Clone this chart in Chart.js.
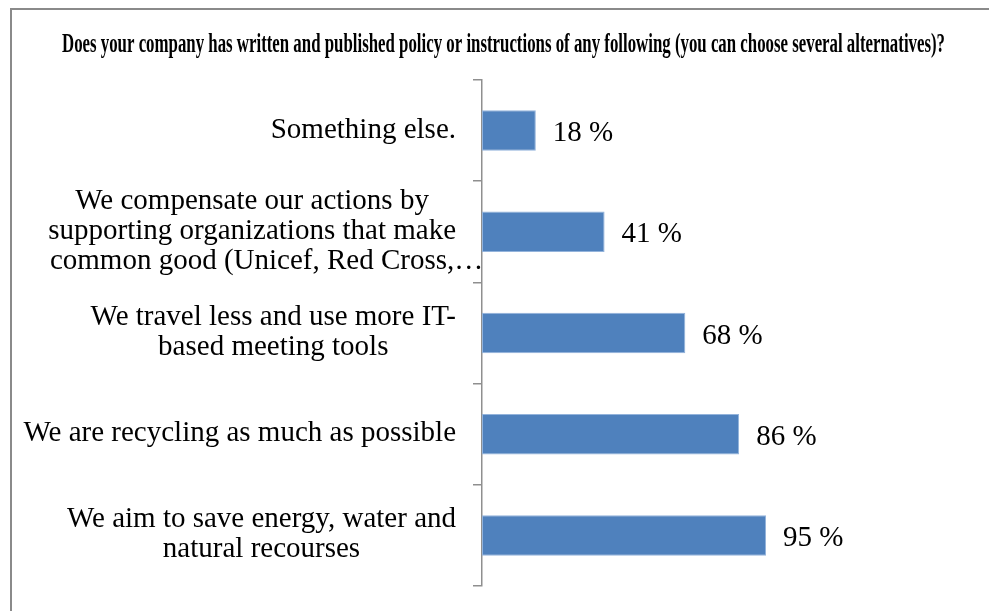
<!DOCTYPE html>
<html>
<head>
<meta charset="utf-8">
<script src="https://cdn.jsdelivr.net/npm/chart.js@4.4.1/dist/chart.umd.min.js"></script>
<style>
  html, body { margin: 0; padding: 0; background: #ffffff; }
  #wrap { position: relative; width: 989px; height: 611px; }
  canvas { display: block; }
</style>
</head>
<body>
<div id="wrap"><canvas id="chart" width="989" height="611"></canvas></div>
<script>
// Survey question shown as the chart heading
const questionTitle = "Does your company has written and published policy or instructions of any following (you can choose several alternatives)?";

// Answer options, top to bottom (each entry holds its wrapped lines)
const answerLabels = [
  ["Something else."],
  ["We compensate our actions by", "supporting organizations that make", "common good (Unicef, Red Cross,\u2026"],
  ["We travel less and use more IT-", "based meeting tools"],
  ["We are recycling as much as possible"],
  ["We aim to save energy, water and", "natural recourses"]
];

// Share of respondents choosing each option, in percent
const answerShares = [18, 41, 68, 86, 95];

// Horizontal axis range (percent)
const shareAxisMin = 0;
const shareAxisMax = 100;

const SERIF = "'Liberation Serif', 'Times New Roman', serif";
const AXIS_GREY = "#8f8f8f";

// Outer frame (top and left edges) plus the bold condensed heading
const framePlugin = {
  id: "frameAndTitle",
  beforeDraw(chart) {
    const ctx = chart.ctx;
    ctx.save();
    ctx.fillStyle = "#ffffff";
    ctx.fillRect(0, 0, chart.width, chart.height);
    ctx.strokeStyle = "#8a8a8a";
    ctx.lineWidth = 2;
    ctx.beginPath();
    ctx.moveTo(11, chart.height);
    ctx.lineTo(11, 9);
    ctx.lineTo(chart.width, 9);
    ctx.stroke();

    // heading, squeezed horizontally to its span
    ctx.font = "bold 28px " + SERIF;
    ctx.fillStyle = "#000000";
    ctx.textAlign = "left";
    ctx.textBaseline = "alphabetic";
    const w = ctx.measureText(questionTitle).width;
    const targetW = 883;
    const sx = targetW / w;
    ctx.translate(62, 52);
    ctx.scale(sx, 1);
    ctx.fillText(questionTitle, 0, 0);
    ctx.restore();
  }
};

// Category labels: each block is right-aligned, its lines centred within the block
const categoryLabelPlugin = {
  id: "categoryLabels",
  afterDraw(chart) {
    const ctx = chart.ctx;
    const yScale = chart.scales.y;
    const rightEdge = 456;
    const lineH = 30;
    ctx.save();
    ctx.font = "29px " + SERIF;
    ctx.fillStyle = "#000000";
    ctx.textBaseline = "alphabetic";
    answerLabels.forEach((lines, i) => {
      const yc = yScale.getPixelForValue(i);
      const widths = lines.map(l => ctx.measureText(l.replace(/\u2026$/, "")).width);
      const blockW = Math.max(...widths);
      const cx = rightEdge - blockW / 2;
      const y0 = yc - (lines.length - 1) * lineH / 2 + 7;
      lines.forEach((l, k) => {
        // a truncated line keeps its centring without the ellipsis
        ctx.textAlign = "left";
        ctx.fillText(l, cx - widths[k] / 2, y0 + k * lineH);
      });
    });
    ctx.restore();
  }
};

// Value labels to the right of each bar
const valueLabelPlugin = {
  id: "valueLabels",
  afterDatasetsDraw(chart) {
    const ctx = chart.ctx;
    const meta = chart.getDatasetMeta(0);
    ctx.save();
    ctx.font = "29px " + SERIF;
    ctx.fillStyle = "#000000";
    ctx.textAlign = "left";
    ctx.textBaseline = "alphabetic";
    meta.data.forEach((bar, i) => {
      ctx.fillText(answerShares[i] + " %", bar.x + 17, bar.y + 10.5);
    });
    ctx.restore();
  }
};

new Chart(document.getElementById("chart"), {
  type: "bar",
  data: {
    labels: answerLabels,
    datasets: [{
      data: answerShares,
      backgroundColor: "#4f81bd",
      borderColor: "#93b3db",
      borderWidth: 1,
      borderSkipped: false,
      categoryPercentage: 1.0,
      barPercentage: 0.4
    }]
  },
  options: {
    indexAxis: "y",
    responsive: false,
    animation: false,
    devicePixelRatio: 1,
    layout: { padding: { left: 0, right: 208, top: 80, bottom: 25 } },
    plugins: {
      legend: { display: false },
      tooltip: { enabled: false },
      title: { display: false }
    },
    scales: {
      x: {
        display: false,
        min: shareAxisMin,
        max: shareAxisMax
      },
      y: {
        type: "category",
        offset: true,
        border: { display: true, color: AXIS_GREY, width: 1.5 },
        grid: {
          offset: true,
          drawOnChartArea: false,
          drawTicks: true,
          tickLength: 9,
          color: AXIS_GREY,
          lineWidth: 1.5
        },
        ticks: { display: false },
        afterFit(scale) { scale.width = 482; }
      }
    }
  },
  plugins: [framePlugin, categoryLabelPlugin, valueLabelPlugin]
});
</script>
</body>
</html>
